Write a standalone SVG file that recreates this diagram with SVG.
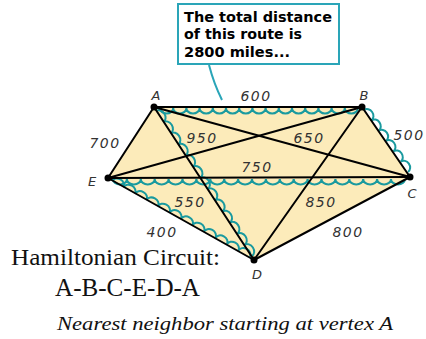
<svg xmlns="http://www.w3.org/2000/svg" width="426" height="339" viewBox="0 0 426 339">
<style>
.edge{stroke:#000;stroke-width:2;fill:none;stroke-linecap:round}
.wave{stroke:#1a9a9f;stroke-width:2;fill:none}
.w{font-family:"DejaVu Sans","Liberation Sans",sans-serif;font-style:oblique;font-size:14px;fill:#333;letter-spacing:1.5px;text-anchor:middle}
.v{font-family:"DejaVu Sans","Liberation Sans",sans-serif;font-style:oblique;font-size:13px;fill:#333;text-anchor:middle}
.call{font-family:"DejaVu Sans","Liberation Sans",sans-serif;font-weight:bold;font-size:14px;fill:#000}
.serif{font-family:"Liberation Serif","Times New Roman",serif;fill:#111}
</style>
<rect width="426" height="339" fill="#fff"/>
<polygon points="154,107 362,107 410,177 254,260 108,178" fill="#fcebba"/>
<g id="route">
<path class="wave" transform="translate(160 108)" d="M0,0 a6.6,5.5 0 0 0 13.2,0 a6.6,5.5 0 0 0 13.2,0 a6.6,5.5 0 0 0 13.2,0 a6.6,5.5 0 0 0 13.2,0 a6.6,5.5 0 0 0 13.2,0 a6.6,5.5 0 0 0 13.2,0 a6.6,5.5 0 0 0 13.2,0 a6.6,5.5 0 0 0 13.2,0 a6.6,5.5 0 0 0 13.2,0 a6.6,5.5 0 0 0 13.2,0 a6.6,5.5 0 0 0 13.2,0 a6.6,5.5 0 0 0 13.2,0 a6.6,5.5 0 0 0 13.2,0 a6.6,5.5 0 0 0 13.2,0 a6.6,5.5 0 0 0 13.2,0"/>
<path class="wave" transform="translate(364 110) rotate(54.6)" d="M0,0 a6.33,5.5 0 0 1 12.67,0 a6.33,5.5 0 0 1 12.67,0 a6.33,5.5 0 0 1 12.67,0 a6.33,5.5 0 0 1 12.67,0 a6.33,5.5 0 0 1 12.67,0 a6.33,5.5 0 0 1 12.67,0"/>
<path class="wave" transform="translate(113 179)" d="M0,0 a6.95,5.5 0 0 0 13.9,0 a6.95,5.5 0 0 0 13.9,0 a6.95,5.5 0 0 0 13.9,0 a6.95,5.5 0 0 0 13.9,0 a6.95,5.5 0 0 0 13.9,0 a6.95,5.5 0 0 0 13.9,0 a6.95,5.5 0 0 0 13.9,0 a6.95,5.5 0 0 0 13.9,0 a6.95,5.5 0 0 0 13.9,0 a6.95,5.5 0 0 0 13.9,0 a6.95,5.5 0 0 0 13.9,0 a6.95,5.5 0 0 0 13.9,0 a6.95,5.5 0 0 0 13.9,0 a6.95,5.5 0 0 0 13.9,0 a6.95,5.5 0 0 0 13.9,0 a6.95,5.5 0 0 0 13.9,0 a6.95,5.5 0 0 0 13.9,0 a6.95,5.5 0 0 0 13.9,0 a6.95,5.5 0 0 0 13.9,0 a6.95,5.5 0 0 0 13.9,0 a6.95,5.5 0 0 0 13.9,0"/>
<path class="wave" transform="translate(112 181) rotate(28.84)" d="M0,0 a6.56,5.5 0 0 1 13.12,0 a6.56,5.5 0 0 1 13.12,0 a6.56,5.5 0 0 1 13.12,0 a6.56,5.5 0 0 1 13.12,0 a6.56,5.5 0 0 1 13.12,0 a6.56,5.5 0 0 1 13.12,0 a6.56,5.5 0 0 1 13.12,0 a6.56,5.5 0 0 1 13.12,0 a6.56,5.5 0 0 1 13.12,0 a6.56,5.5 0 0 1 13.12,0 a6.56,5.5 0 0 1 13.12,0 a6.56,5.5 0 0 1 13.12,0"/>
<path class="wave" transform="translate(156 111) rotate(56.5)" d="M0,0 a6.69,5.5 0 0 1 13.38,0 a6.69,5.5 0 0 1 13.38,0 a6.69,5.5 0 0 1 13.38,0 a6.69,5.5 0 0 1 13.38,0 a6.69,5.5 0 0 1 13.38,0 a6.69,5.5 0 0 1 13.38,0 a6.69,5.5 0 0 1 13.38,0 a6.69,5.5 0 0 1 13.38,0 a6.69,5.5 0 0 1 13.38,0 a6.69,5.5 0 0 1 13.38,0 a6.69,5.5 0 0 1 13.38,0 a6.69,5.5 0 0 1 13.38,0 a6.69,5.5 0 0 1 13.38,0"/>
</g>
<g id="connectors">
<line class="edge" x1="154" y1="107" x2="362" y2="107"/>
<line class="edge" x1="154" y1="107" x2="410" y2="177"/>
<line class="edge" x1="154" y1="107" x2="254" y2="260"/>
<line class="edge" x1="154" y1="107" x2="108" y2="178"/>
<line class="edge" x1="362" y1="107" x2="410" y2="177"/>
<line class="edge" x1="362" y1="107" x2="254" y2="260"/>
<line class="edge" x1="362" y1="107" x2="108" y2="178"/>
<line class="edge" x1="410" y1="177" x2="108" y2="178"/>
<line class="edge" x1="410" y1="177" x2="254" y2="260"/>
<line class="edge" x1="108" y1="178" x2="254" y2="260"/>
<path d="M209,65 Q214,84 222,100" stroke="#2aa5b8" stroke-width="2" fill="none"/>
</g>
<g id="edge-labels">
<text class="w" x="256" y="101">600</text>
<text class="w" x="409" y="140">500</text>
<text class="w" x="105" y="148">700</text>
<text class="w" x="202" y="143">950</text>
<text class="w" x="309" y="143">650</text>
<text class="w" x="257" y="172">750</text>
<text class="w" x="190" y="207">550</text>
<text class="w" x="321" y="207">850</text>
<text class="w" x="162" y="237">400</text>
<text class="w" x="348" y="237">800</text>
</g>
<g id="A"><circle cx="154" cy="107" r="3.5"/><text class="v" x="156" y="100">A</text></g>
<g id="B"><circle cx="362" cy="107" r="3.5"/><text class="v" x="364" y="100">B</text></g>
<g id="C"><circle cx="410" cy="177" r="3.5"/><text class="v" x="412" y="198">C</text></g>
<g id="D"><circle cx="254" cy="260" r="3.5"/><text class="v" x="257" y="279">D</text></g>
<g id="E"><circle cx="108" cy="178" r="3.5"/><text class="v" x="92" y="186">E</text></g>
<g id="callout">
<rect x="178" y="4" width="161" height="60" fill="#fff" stroke="#2aa5b8" stroke-width="2"/>
<text class="call" x="184" y="22" textLength="148" lengthAdjust="spacingAndGlyphs">The total distance</text>
<text class="call" x="184" y="39" textLength="118" lengthAdjust="spacingAndGlyphs">of this route is</text>
<text class="call" x="184" y="57" textLength="106" lengthAdjust="spacingAndGlyphs">2800 miles...</text>
</g>
<g id="caption">
<text class="serif" x="11" y="265" font-size="24" textLength="209" lengthAdjust="spacingAndGlyphs">Hamiltonian Circuit:</text>
<text class="serif" x="55" y="296" font-size="25" textLength="145" lengthAdjust="spacingAndGlyphs">A-B-C-E-D-A</text>
<text class="serif" x="57" y="330" font-size="19" font-style="italic" textLength="336" lengthAdjust="spacingAndGlyphs">Nearest neighbor starting at vertex A</text>
</g>
</svg>
